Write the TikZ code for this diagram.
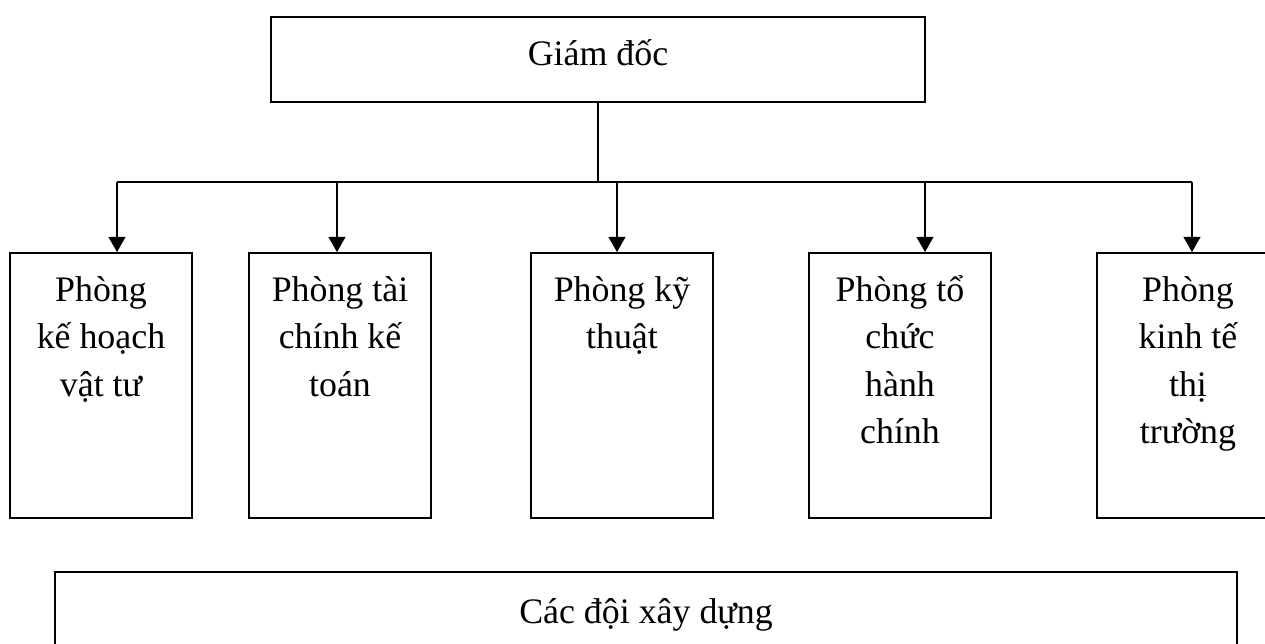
\documentclass[tikz,border=0pt]{standalone}
\usepackage{fontspec}
\setmainfont{Liberation Serif}
\usetikzlibrary{arrows.meta}
\newcommand{\firstline}{\rule{0pt}{1cm}}

\begin{document}
\begin{tikzpicture}[x=0.025cm, y=-0.025cm,
	box/.style={draw, line width=1.2pt, rectangle, inner sep=0pt},
	dept/.style={box, minimum width=4.55cm, minimum height=6.625cm},
	txt/.style={align=center, anchor=north, inner sep=0pt, font=\fontsize{25.5}{33.7}\selectfont},
	link/.style={line width=1.2pt},
	arr/.style={link, -{Triangle[length=0.38cm, width=0.42cm]}}]
	\useasboundingbox (0,0) rectangle (1265,644);
	\clip (0,0) rectangle (1265,644);

	% Draw the director and the teams
	\node[box, minimum width=16.35cm, minimum height=2.125cm, text height=0.6cm, text depth=0.325cm,
		font=\fontsize{25.5}{33.7}\selectfont] (boss) at (598,59.5) {Giám đốc};
	\node[box, minimum width=29.55cm, minimum height=2.125cm, text height=0.65cm, text depth=0.225cm,
		font=\fontsize{25.5}{33.7}\selectfont] (teams) at (646,614.5) {Các đội xây dựng};

	% Then the five departments
	\node[dept] (plan) at (101,385.5) {};
	\node[dept] (fin) at (340,385.5) {};
	\node[dept] (tech) at (622,385.5) {};
	\node[dept] (org) at (900,385.5) {};
	\node[dept] (mkt) at (1188,385.5) {};

	% Now add the department names
	\node[txt] (plan-t) at ([yshift=-0.225cm]plan.north) {\firstline Phòng\\kế hoạch\\vật tư};
	\node[txt] (fin-t) at ([yshift=-0.225cm]fin.north) {\firstline Phòng tài\\chính kế\\toán};
	\node[txt] (tech-t) at ([yshift=-0.225cm]tech.north) {\firstline Phòng kỹ\\thuật};
	\node[txt] (org-t) at ([yshift=-0.225cm]org.north) {\firstline Phòng tổ\\chức\\hành\\chính};
	\node[txt] (mkt-t) at ([yshift=-0.225cm]mkt.north) {\firstline Phòng\\kinh tế\\thị\\trường};

	% Connect the director to the departments
	\coordinate (hub) at (598,182);
	\coordinate (west) at (117,182);
	\coordinate (east) at (1192,182);
	\draw[link] (boss.south) -- (hub);
	\draw[link] (west) -- (east);
	\foreach \x/\d in {117/plan, 337/fin, 617/tech, 925/org, 1192/mkt}
		\draw[arr] (\x,182) -- (\d.north -| \x,0);
\end{tikzpicture}
\end{document}
